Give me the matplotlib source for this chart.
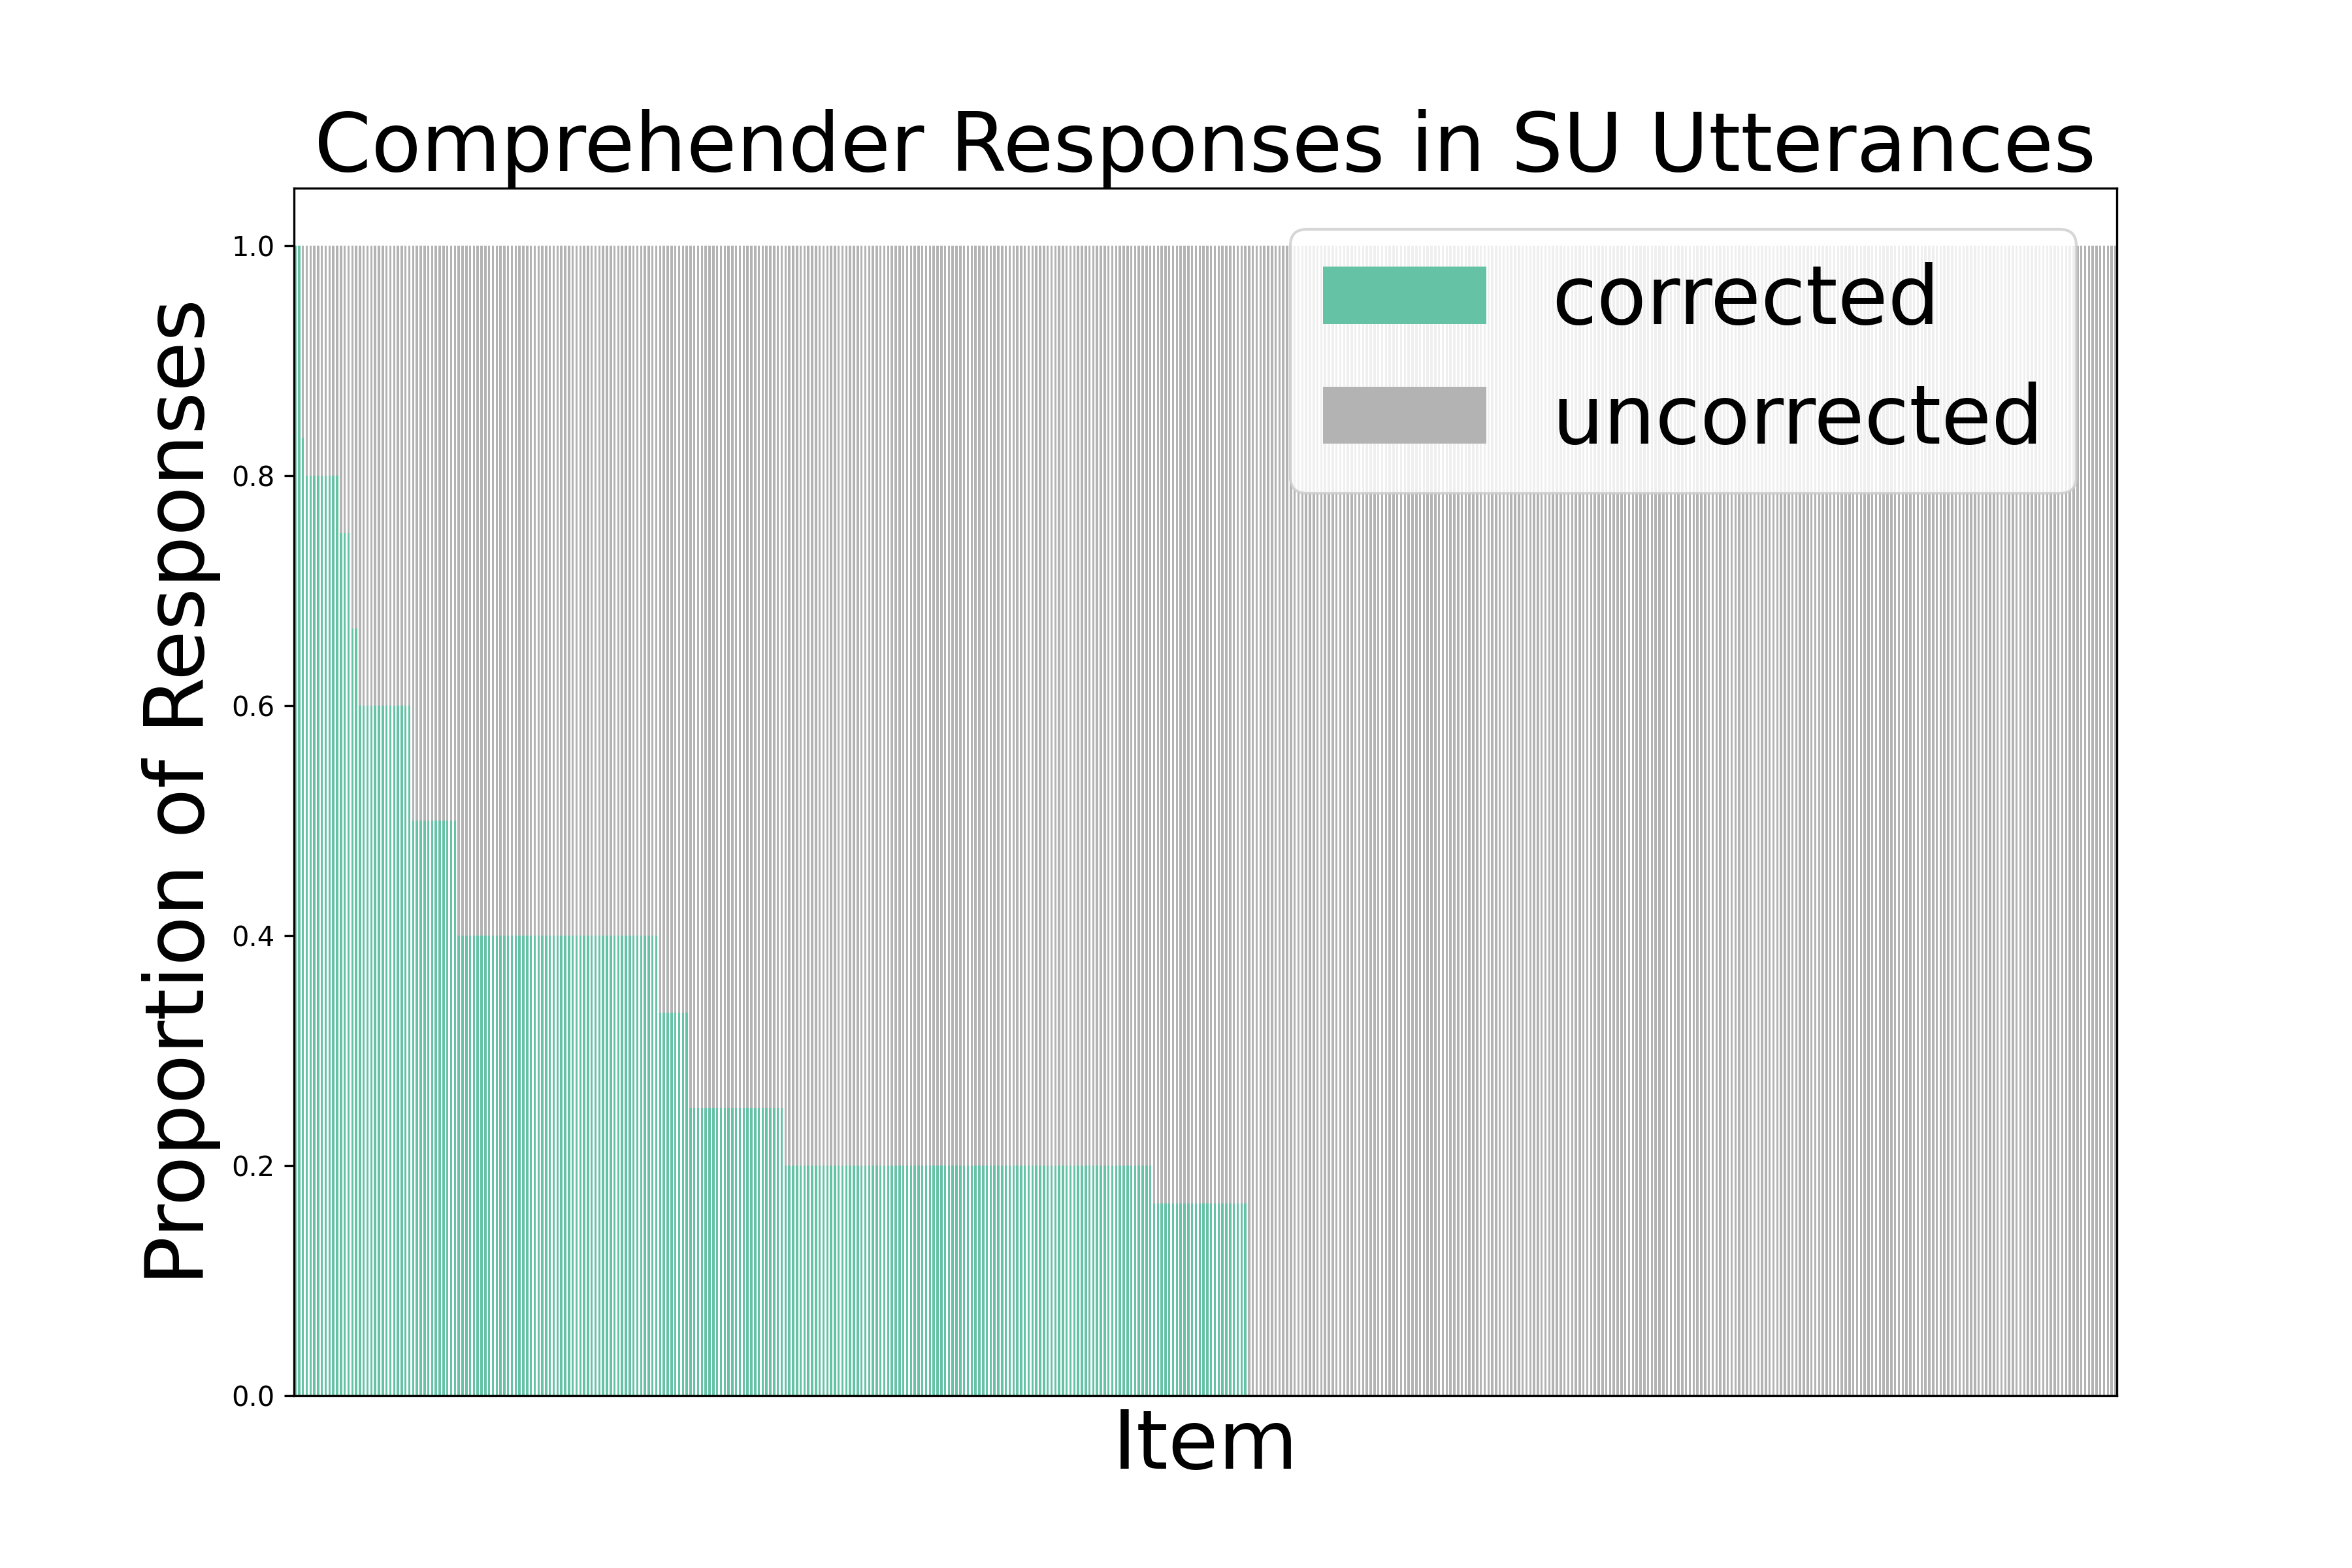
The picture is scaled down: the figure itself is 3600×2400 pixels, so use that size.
import numpy as np
import matplotlib
matplotlib.use('Agg')
import matplotlib.pyplot as plt

levels = [1.0, 0.833, 0.8, 0.75, 0.667, 0.6, 0.5, 0.4, 0.333, 0.25, 0.2, 0.167, 0.0]
counts = [2, 1, 9, 3, 2, 14, 12, 53, 8, 25, 97, 25, 229]

corrected = np.repeat(levels, counts)
uncorrected = 1 - corrected
items = np.arange(len(corrected))

fig, ax = plt.subplots(figsize=(12, 8), dpi=300)

bar_w = 0.6
ax.bar(items, corrected, width=bar_w, color='#66c2a5', label='corrected')
ax.bar(items, uncorrected, width=bar_w, bottom=corrected, color='#b3b3b3', label='uncorrected')

ax.set_xlim(-bar_w / 2 - 0.05, len(items) - 1 + bar_w / 2 + 0.05)
ax.set_ylim(0, 1.05)
ax.set_xticks([])
ax.set_xlabel('Item', fontsize=30)
ax.set_ylabel('Proportion of Responses', fontsize=30)
ax.set_title('Comprehender Responses in SU Utterances', fontsize=30)
ax.legend(loc='upper right', fontsize=30)

fig.savefig('out.png', dpi=300)
